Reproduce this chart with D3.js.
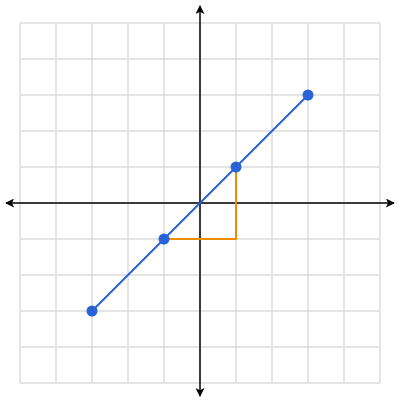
<!DOCTYPE html>
<html><head><script src="https://cdn.jsdelivr.net/npm/d3@7"></script>
<style>body{margin:0;background:#fff}</style></head>
<body><svg id="c" width="400" height="400"></svg>
<script>
const gridTicks = d3.range(-5, 6);
const pointsX = [-3, -1, 1, 3];
const pointsY = [-3, -1, 1, 3];
const triX = [-1, 1, 1];
const triY = [-1, -1, 1];

const svg = d3.select("#c");
const x = d3.scaleLinear().domain([-5, 5]).range([20, 380]);
const y = d3.scaleLinear().domain([-5, 5]).range([383, 23]);

svg.append("g").selectAll("line.v").data(gridTicks).join("line")
  .attr("x1", d => x(d)).attr("x2", d => x(d)).attr("y1", y(-5)).attr("y2", y(5))
  .attr("stroke", "#dcdcdc").attr("stroke-width", 1.5);
svg.append("g").selectAll("line.h").data(gridTicks).join("line")
  .attr("y1", d => y(d)).attr("y2", d => y(d)).attr("x1", x(-5)).attr("x2", x(5))
  .attr("stroke", "#dcdcdc").attr("stroke-width", 1.5);

const defs = svg.append("defs");
defs.append("marker").attr("id", "arr").attr("viewBox", "0 0 10 10").attr("refX", 9).attr("refY", 5)
  .attr("markerWidth", 9).attr("markerHeight", 9).attr("markerUnits", "userSpaceOnUse").attr("orient", "auto-start-reverse")
  .append("path").attr("d", "M0,0L10,5L0,10L2.5,5Z").attr("fill", "#000");

svg.append("line").attr("x1", 6).attr("x2", 394).attr("y1", y(0)).attr("y2", y(0))
  .attr("stroke", "#000").attr("stroke-width", 1.5)
  .attr("marker-start", "url(#arr)").attr("marker-end", "url(#arr)");
svg.append("line").attr("x1", x(0)).attr("x2", x(0)).attr("y1", 6).attr("y2", 396)
  .attr("stroke", "#000").attr("stroke-width", 1.5)
  .attr("marker-start", "url(#arr)").attr("marker-end", "url(#arr)");

const tri = triX.map((d, i) => [d, triY[i]]);
svg.append("path").attr("d", d3.line().x(d => x(d[0])).y(d => y(d[1]))(tri))
  .attr("fill", "none").attr("stroke", "#f08c00").attr("stroke-width", 2);

const pts = pointsX.map((d, i) => [d, pointsY[i]]);
svg.append("path").attr("d", d3.line().x(d => x(d[0])).y(d => y(d[1]))(pts))
  .attr("fill", "none").attr("stroke", "#2a62d8").attr("stroke-width", 2);
svg.selectAll("circle").data(pts).join("circle")
  .attr("cx", d => x(d[0])).attr("cy", d => y(d[1])).attr("r", 5.5).attr("fill", "#2a62d8");
</script></body></html>
